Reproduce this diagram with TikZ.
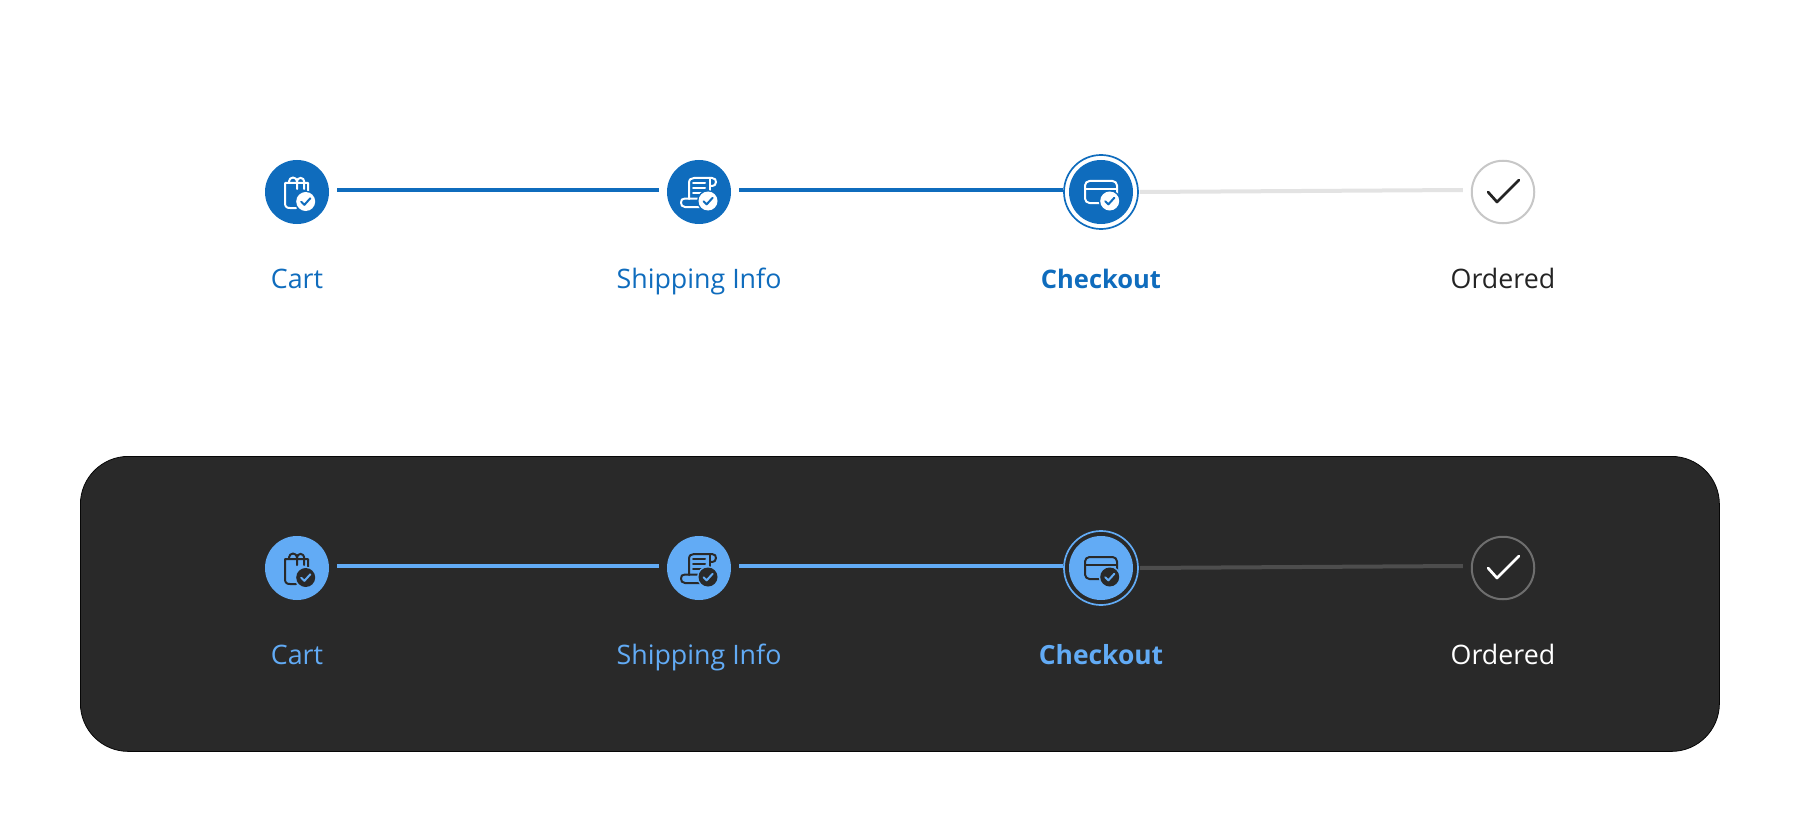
\documentclass[tikz,border=0pt]{standalone}
\usepackage{fontspec}
\setmainfont{Open Sans}
\definecolor{blueA}{HTML}{0F6CBD}
\definecolor{blueB}{HTML}{62ABF5}
\definecolor{panelC}{HTML}{292929}
\definecolor{inkC}{HTML}{242424}
\definecolor{trackA}{HTML}{E3E3E3}
\definecolor{trackB}{HTML}{4D4D4D}
\definecolor{ringA}{HTML}{C7C7C7}
\definecolor{ringB}{HTML}{6E6E6E}
\newcommand{\badgeat}[4]{% pos, fg, bg
  \fill[#3] (#1) circle[radius=11];
  \fill[#2] (#1) circle[radius=9.5];
  \draw[#3,line width=2,line cap=round,line join=round,shift={(#1)}] (-4.5,0.3) -- (-1.3,3.3) -- (4.6,-3.2);
}
\newcommand{\bagicon}[3]{%
  \begin{scope}[shift={(#1)}]
    \draw[#2,icon stroke] (-1,16) -- (-7,16) .. controls (-10.5,16) and (-12,14.5) .. (-12,11) -- (-12,-9) -- (11,-9) -- (11,2);
    \draw[#2,icon stroke] (-8,-9) -- (-8,-10.5) arc[start angle=180,end angle=360,radius=4] -- (0,-3);
    \draw[#2,icon stroke] (0,-10.5) arc[start angle=180,end angle=360,radius=3.6] -- (7.2,-3);
    \badgeat{8.7,9.5}{#2}{#3}{}
  \end{scope}}
\newcommand{\scrollicon}[3]{%
  \begin{scope}[shift={(#1)}]
    \draw[#2,icon stroke] (-10,7) -- (-10,-9) .. controls (-10,-12.5) and (-8,-14) .. (-5,-14) -- (13,-14) .. controls (16,-14) and (17,-12) .. (17,-10) .. controls (17,-7.5) and (16,-6) .. (11,-6);
    \draw[#2,icon stroke] (11,-14) -- (11,0);
    \draw[#2,icon stroke] (1,15) -- (-14,15) .. controls (-17,15) and (-18,13) .. (-18,10.5) .. controls (-18,8) and (-17,6.5) .. (-14,6.5) -- (0,6.5);
    \draw[#2,icon stroke] (-6,-9) -- (6,-9);
    \draw[#2,icon stroke] (-6,-4) -- (6,-4);
    \draw[#2,icon stroke] (-6,1) -- (2,1);
    \badgeat{9,9}{#2}{#3}{}
  \end{scope}}
\newcommand{\cardicon}[3]{%
  \begin{scope}[shift={(#1)}]
    \draw[#2,icon stroke,rounded corners=4.5] (-16,-11) rectangle (16,11);
    \draw[#2,icon stroke] (-16,-3) -- (16,-3);
    \badgeat{8.7,9}{#2}{#3}{}
  \end{scope}}
\begin{document}
\begin{tikzpicture}[x=1pt,y=-1pt,
  icon stroke/.style={line width=2,line cap=round,line join=round},
  stepdot/.style={circle,inner sep=0pt,minimum size=64},
  openRing/.style={circle,inner sep=0pt,minimum size=62.5,line width=2},
  wideRing/.style={circle,inner sep=0pt,minimum size=74,line width=1.7},
  steplabel/.style={anchor=base,font=\fontsize{26.8}{30}\selectfont,inner sep=0pt},
  boldlabel/.style={anchor=base,font=\fontsize{25.5}{30}\selectfont\bfseries,inner sep=0pt},
  boldlabelB/.style={anchor=base,font=\fontsize{26.4}{30}\selectfont\bfseries,inner sep=0pt},
  track/.style={line width=4}]
\useasboundingbox (0,0) rectangle (1800,832);
% light row
\node[stepdot,fill=blueA] (a1) at (297,192) {};
\node[stepdot,fill=blueA] (a2) at (699,192) {};
\node[stepdot,fill=blueA] (a3) at (1101,192) {};
\node[wideRing,draw=blueA] (a3r) at (1101,192) {};
\node[openRing,draw=ringA,fill=white] (a4) at (1503,192) {};
\draw[track,blueA] ([shift={(8,-2)}]a1.east) -- ([shift={(-8,-2)}]a2.west);
\draw[track,blueA] ([shift={(8,-2)}]a2.east) -- ([shift={(0,-2)}]a3r.west);
\draw[track,trackA] ([shift={(1,0)}]a3r.east) -- ([shift={(-8,-2)}]a4.west);
\bagicon{297,192}{white}{blueA}
\scrollicon{699,192}{white}{blueA}
\cardicon{1101,192}{white}{blueA}
\draw[inkC,line width=2.7,line cap=round,line join=round,shift={(a4.center)}] (-15,0) -- (-6,10) -- (16,-12);
\node[steplabel,text=blueA] (t1) at (297,288) {Cart};
\node[steplabel,text=blueA] (t2) at (699,288) {Shipping Info};
\node[boldlabel,text=blueA] (t3) at (1101,288) {Checkout};
\node[steplabel,text=inkC] (t4) at (1503,288) {Ordered};
% dark panel
\node[draw=black!85!panelC,line width=0.8,fill=panelC,rounded corners=48,minimum width=1639,minimum height=295,inner sep=0pt,anchor=north west] (panel) at (80,456) {};
\node[stepdot,fill=blueB] (b1) at (297,568) {};
\node[stepdot,fill=blueB] (b2) at (699,568) {};
\node[stepdot,fill=blueB] (b3) at (1101,568) {};
\node[wideRing,draw=blueB] (b3r) at (1101,568) {};
\node[openRing,draw=ringB,fill=panelC] (b4) at (1503,568) {};
\draw[track,blueB] ([shift={(8,-2)}]b1.east) -- ([shift={(-8,-2)}]b2.west);
\draw[track,blueB] ([shift={(8,-2)}]b2.east) -- ([shift={(0,-2)}]b3r.west);
\draw[track,trackB] ([shift={(1,0)}]b3r.east) -- ([shift={(-8,-2)}]b4.west);
\bagicon{297,568}{panelC}{blueB}
\scrollicon{699,568}{panelC}{blueB}
\cardicon{1101,568}{panelC}{blueB}
\draw[white,line width=2.7,line cap=round,line join=round,shift={(b4.center)}] (-15,0) -- (-6,10) -- (16,-12);
\node[steplabel,text=blueB] (u1) at (297,664) {Cart};
\node[steplabel,text=blueB] (u2) at (699,664) {Shipping Info};
\node[boldlabelB,text=blueB] (u3) at (1101,664) {Checkout};
\node[steplabel,text=white] (u4) at (1503,664) {Ordered};
\end{tikzpicture}
\end{document}
